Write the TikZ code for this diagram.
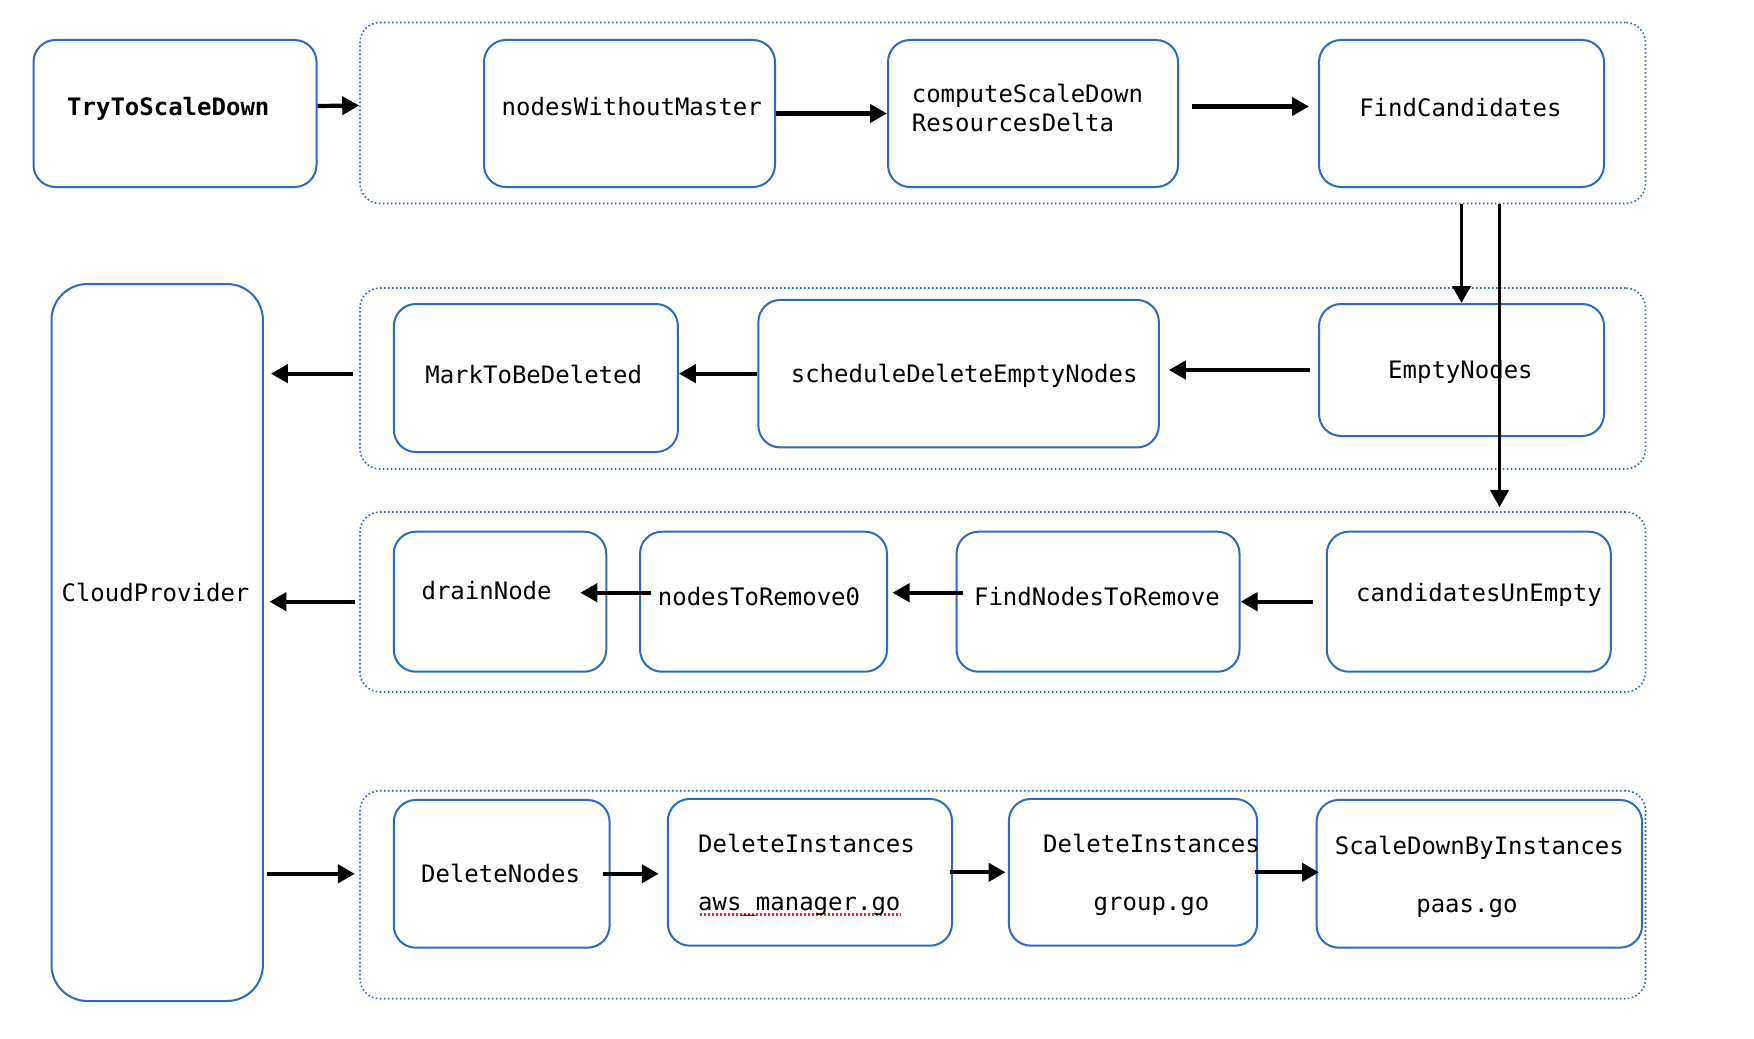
\documentclass[tikz,border=0pt]{standalone}
\usepackage{fontspec}
\setmonofont{DejaVu Sans Mono}
\usepackage{tikz}
\usetikzlibrary{arrows.meta}
\definecolor{boxblue}{RGB}{44,106,191}
\definecolor{spellred}{RGB}{226,40,40}

\begin{document}
\begin{tikzpicture}[x=0.5pt, y=-0.5pt,
    box/.style = {draw=boxblue, line width=1pt, rounded corners=11pt, inner sep=0pt},
    txt/.style = {inner sep=0pt, font=\ttfamily\fontsize{12}{14.4}\selectfont, align=center},
    grp/.style = {draw=boxblue, line width=0.8pt, dash pattern=on 0.8pt off 1.2pt,
                  rounded corners=10pt, inner sep=0pt, minimum width=642.75pt},
    arr/.style = {line width=2.1pt, >={Triangle[length=8.5pt, width=9pt]}},
    varr/.style = {line width=1.9pt, >={Triangle[length=8.5pt, width=9pt]}},
    uline/.style = {draw=spellred, line width=1.2pt, dash pattern=on 1pt off 1pt}]
            \useasboundingbox (0,0) rectangle (1754,1038);

            % Groups
            \node[grp, minimum height=90.5pt] (g1) at (1002.75,113) {};
            \node[grp, minimum height=90.5pt] (g2) at (1002.75,378.5) {};
            \node[grp, minimum height=90pt] (g3) at (1002.75,602) {};
            \node[grp, minimum height=104pt] (g4) at (1002.75,894.7) {};

            % Boxes
            \node[box, minimum width=141.5pt, minimum height=73.5pt] (1) at (175,113.5) {};
            \node[box, minimum width=145.5pt, minimum height=73.5pt] (2) at (629.5,113.5) {};
            \node[box, minimum width=145pt, minimum height=73.5pt] (3) at (1033,113.5) {};
            \node[box, minimum width=142.5pt, minimum height=73.5pt] (4) at (1461.5,113.5) {};

            \node[box, minimum width=142.5pt, minimum height=66pt] (5) at (1461.5,370) {};
            \node[box, minimum width=200.25pt, minimum height=73.75pt] (6) at (958.6,373.7) {};
            \node[box, minimum width=142pt, minimum height=74pt] (7) at (535.9,378) {};

            \node[box, minimum width=105.7pt, minimum height=358.5pt, rounded corners=18pt] (8) at (157.2,642.5) {};

            \node[box, minimum width=142pt, minimum height=70pt] (9) at (1468.8,601.7) {};
            \node[box, minimum width=141.5pt, minimum height=70pt] (10) at (1098,601.7) {};
            \node[box, minimum width=123.5pt, minimum height=70pt] (11) at (763.5,601.7) {};
            \node[box, minimum width=106.25pt, minimum height=70pt] (12) at (500,601.7) {};

            \node[box, minimum width=107.9pt, minimum height=73.85pt] (13) at (501.7,873.8) {};
            \node[box, minimum width=142.1pt, minimum height=73.35pt] (14) at (809.9,872.3) {};
            \node[box, minimum width=124.15pt, minimum height=73.35pt] (15) at (1133,872.3) {};
            \node[box, minimum width=162.7pt, minimum height=73.85pt] (16) at (1479.3,873.8) {};

            % underline
            \draw[uline] ([xshift=-55pt, yshift=-21pt]14.center) -- ([xshift=45.5pt, yshift=-21pt]14.center);

            % Texts
            \node[txt] (1t) at (168.3,109) {\textbf{TryToScaleDown}};
            \node[txt] (2t) at (631.7,106.8) {nodesWithoutMaster};
            \node[txt, align=left] (3t) at (1027.4,107.9) {computeScaleDown\\ResourcesDelta};
            \node[txt] (4t) at (1460.4,107.9) {FindCandidates};
            \node[txt] (5t) at (1460.4,372.2) {EmptyNodes};
            \node[txt] (6t) at (964.2,375.9) {scheduleDeleteEmptyNodes};
            \node[txt] (7t) at (533.7,374.6) {MarkToBeDeleted};
            \node[txt] (8t) at (155.5,592.5) {CloudProvider};
            \node[txt] (9t) at (1478.9,595) {candidatesUnEmpty};
            \node[txt] (10t) at (1096.9,596.1) {FindNodesToRemove};
            \node[txt] (11t) at (759,596.1) {nodesToRemove0};
            \node[txt] (12t) at (486.6,590.5) {drainNode};
            \node[txt] (13t) at (500.6,873.8) {DeleteNodes};
            \node[txt, align=left] (14t) at (806.5,875) {DeleteInstances\\[14.6pt]aws\_manager.go};
            \node[txt] (15t) at (1151.5,875) {DeleteInstances\\[14.6pt]group.go};
            \node[txt] (16t) at (1479.3,876.6) {ScaleDownByInstances\\[14.6pt]paas.go\hspace*{12.4pt}};

            \coordinate (v) at ([xshift=19pt]4.south);

            % Lines
            \draw[->,arr] ([yshift=3.75pt]1.east) -- ([yshift=3.75pt]g1.west);
            \draw[->,arr] (2) -- (3);
            \draw[->,arr, shorten <=6.5pt, shorten >=4.5pt] ([yshift=3.5pt]3.east) -- ([yshift=3.5pt]4.west);
            \draw[->,varr] (4.south |- g1.south) -- (5.north);
            \draw[->,varr, shorten >=2pt] (v |- g1.south) -- (v |- g3.north);

            \draw[->,arr, shorten <=4pt, shorten >=4.5pt] (5.west) -- (5.west -| 6.east);
            \draw[->,arr] (6.west) -- (6.west -| 7.east);
            \draw[->,arr, shorten <=3.25pt, shorten >=3.5pt] (6.west -| g2.west) -- (6.west -| 8.east);

            \draw[->,arr, shorten <=6.35pt] (9) -- (10);
            \draw[->,arr, shorten <=-3.8pt, shorten >=2.25pt] ([yshift=4.5pt]10.west) -- ([yshift=4.5pt]11.east);
            \draw[->,arr, shorten <=-6pt, shorten >=-13.5pt] ([yshift=4.5pt]11.west) -- ([yshift=4.5pt]12.east);
            \draw[->,arr, shorten <=2.15pt, shorten >=2.75pt] (10 -| g3.west) -- (10 -| 8.east);

            \draw[->,arr, shorten <=1.5pt, shorten >=2.15pt] (13 -| 8.east) -- (13 -| g4.west);
            \draw[->,arr, shorten <=-4pt, shorten >=4pt] (13.east) -- (13.east -| 14.west);
            \draw[->,arr, shorten <=-1.7pt, shorten >=1.15pt] (14) -- (15);
            \draw[->,arr, shorten <=-1.8pt, shorten >=-1.7pt] (15.east) -- (15.east -| 16.west);

        \end{tikzpicture}
\end{document}
